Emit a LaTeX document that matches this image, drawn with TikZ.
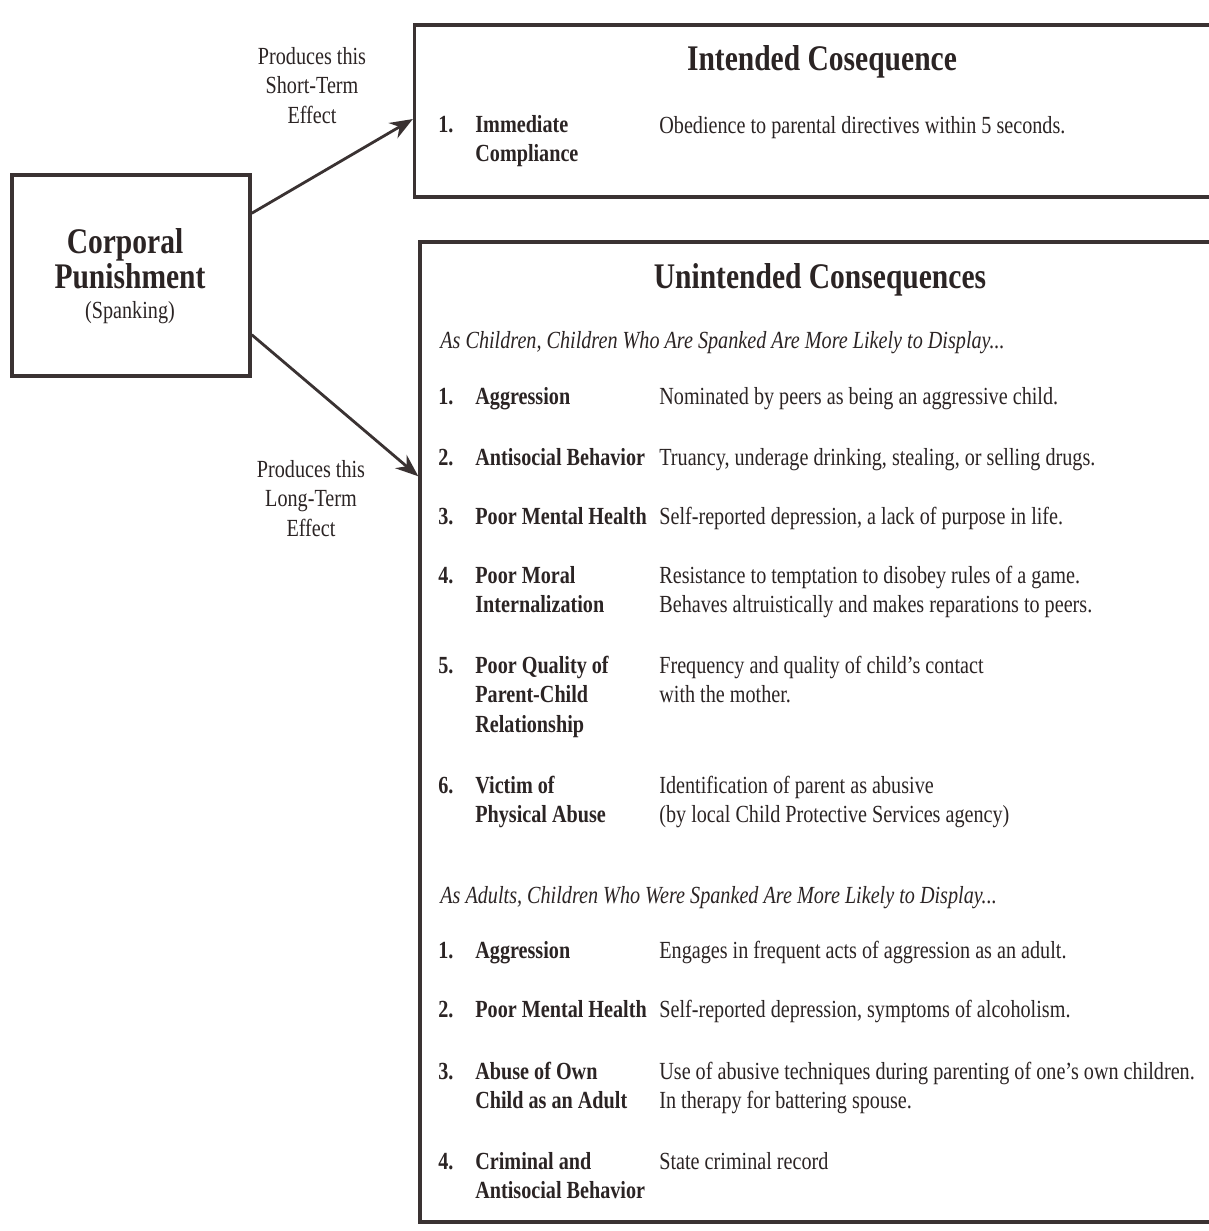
\documentclass[tikz,border=0pt]{standalone}
\usepackage{fontspec}
\setmainfont{Liberation Serif}[FakeStretch=0.82]
\usetikzlibrary{arrows.meta}
\definecolor{ink}{HTML}{2B2424}
\definecolor{rule}{HTML}{3A3232}
\newcommand{\lines}[1]{\begin{tabular}[t]{@{}l@{}}#1\end{tabular}}
\newcommand{\clines}[1]{\begin{tabular}[t]{@{}c@{}}#1\end{tabular}}
\tikzset{
  box/.style={draw=rule, line width=2pt, inner sep=0pt},
  arr/.style={draw=rule, line width=1.6pt, -{Stealth[length=13pt,width=10pt]}},
  txt/.style={anchor=base west, inner sep=0pt, text=ink,
    font=\fontsize{14}{16.8}\selectfont},
  lab/.style={txt, font=\fontsize{14}{16.8}\selectfont\bfseries},
  head/.style={txt, font=\fontsize{14}{16.8}\selectfont\itshape},
  title/.style={anchor=base, inner sep=0pt, text=ink,
    font=\fontsize{20.5}{24.6}\selectfont\bfseries},
  note/.style={anchor=base, inner sep=0pt, text=ink,
    font=\fontsize{14}{16.8}\selectfont},
}
\begin{document}
\begin{tikzpicture}[x=0.02cm, y=-0.02cm]
  \useasboundingbox (0,0) rectangle (1208,1231);
  \fill[white] (0,0) rectangle (1208,1231);

  \node[box, minimum width=4.76cm, minimum height=4.02cm] (cp) at (131,275.5) {};
  \node[box, minimum width=16.9cm, minimum height=3.44cm] (ic) at (837,111) {};
  \node[box, minimum width=16.8cm, minimum height=19.6cm] (uc) at (840,732) {};

  \node[title] (cor) at (125,253) {Corporal};
  \node[title] (pun) at (130,288) {Punishment};
  \node[note] (spa) at (130,318) {(Spanking)};

  \node[note] (st) at (312,64) {\clines{Produces this\\Short-Term\\Effect}};
  \node[note] (lt) at (311,477) {\clines{Produces this\\Long-Term\\Effect}};

  \node[title] (ict) at (822,70) {Intended Cosequence};
  \node[lab] (n1) at (438,132) {1.};
  \node[lab] (imm) at (475,132) {\lines{Immediate\\Compliance}};
  \node[txt] (obe) at (659,133) {Obedience to parental directives within 5 seconds.};

  \node[title] (uct) at (820,288) {Unintended Consequences};
  \node[head] (chi) at (440,348) {As Children, Children Who Are Spanked Are More Likely to Display...};
  \node[head] (adu) at (440,903) {As Adults, Children Who Were Spanked Are More Likely to Display...};

  \foreach \y/\n/\l/\d in {
      404/1./Aggression/{Nominated by peers as being an aggressive child.},
      465/2./Antisocial Behavior/{Truancy, underage drinking, stealing, or selling drugs.},
      524/3./Poor Mental Health/{Self-reported depression, a lack of purpose in life.},
      583/4./{Poor Moral\\Internalization}/{Resistance to temptation to disobey rules of a game.\\Behaves altruistically and makes reparations to peers.},
      673/5./{Poor Quality of\\Parent-Child\\Relationship}/{Frequency and quality of child's contact\\with the mother.},
      793/6./{Victim of\\Physical Abuse}/{Identification of parent as abusive\\(by local Child Protective Services agency)},
      958/1./Aggression/{Engages in frequent acts of aggression as an adult.},
      1017/2./Poor Mental Health/{Self-reported depression, symptoms of alcoholism.},
      1079/3./{Abuse of Own\\Child as an Adult}/{Use of abusive techniques during parenting of one's own children.\\In therapy for battering spouse.},
      1169/4./{Criminal and\\Antisocial Behavior}/{State criminal record}}{
    \node[lab] (num\y) at (438,\y) {\n};
    \node[lab] (lab\y) at (475,\y) {\lines{\l}};
    \node[txt] (des\y) at (659,\y) {\lines{\d}};
  }

  \draw[arr] ([yshift=-0.8cm]cp.north east) -- ([yshift=0.1cm]ic.west |- n1);
  \draw[arr] ([yshift=0.86cm]cp.south east) -- ([yshift=-4.72cm]uc.north west);
\end{tikzpicture}
\end{document}
